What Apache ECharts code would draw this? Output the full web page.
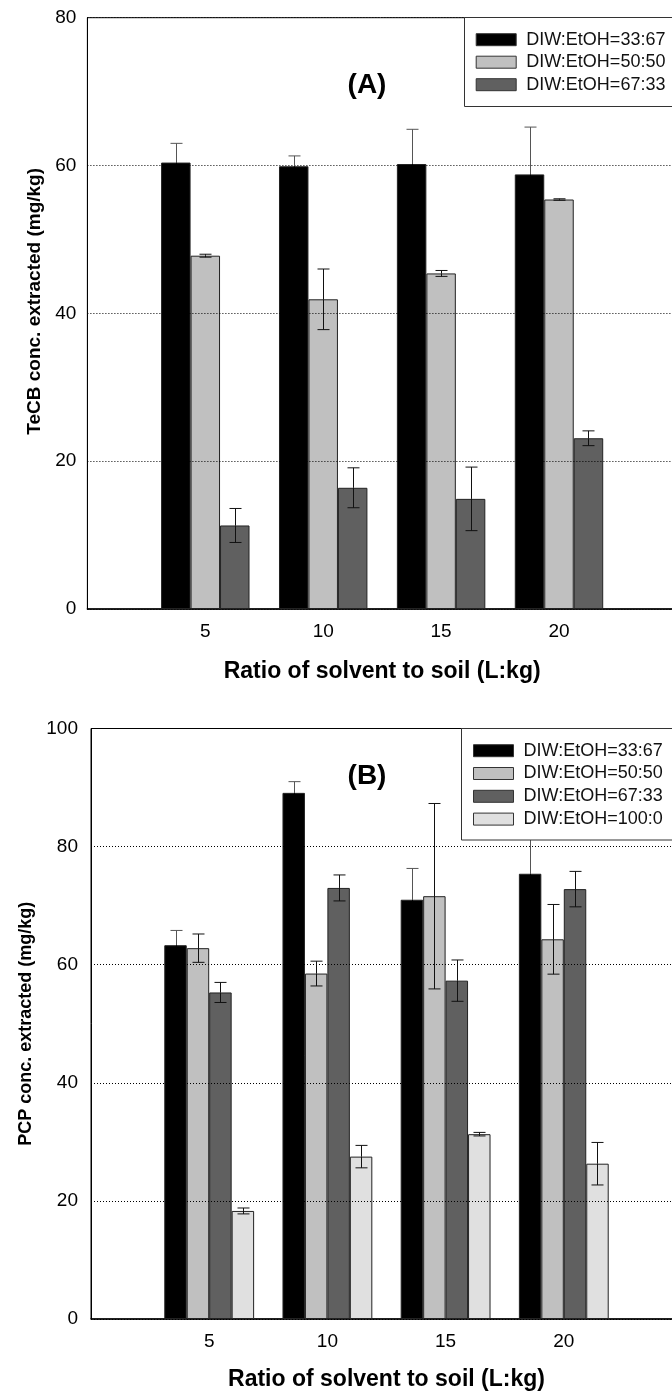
<!DOCTYPE html>
<html><head><meta charset="utf-8">
<script src="https://cdn.jsdelivr.net/npm/echarts@6/dist/echarts.min.js"></script>
<style>html,body{margin:0;padding:0;background:#fff}#c{width:672px;height:1393px}</style>
</head><body><div id="c"></div>
<script>
// ---- data ----
const xCategories = ['0', '5', '10', '15', '20', '25'];   // ratio L:kg (0 and 25 are axis ends, unlabeled)
const seriesNames = ['DIW:EtOH=33:67', 'DIW:EtOH=50:50', 'DIW:EtOH=67:33', 'DIW:EtOH=100:0'];
const seriesColors = ['#000000', '#c0c0c0', '#606060', '#e0e0e0'];

// Panel A: TeCB (values at 5,10,15,20)
const tecb_33_67 = [60.4, 59.9, 60.2, 58.8];
const tecb_33_67_err = [2.6, 1.4, 4.7, 6.4];
const tecb_50_50 = [47.8, 41.9, 45.4, 55.4];
const tecb_50_50_err = [0.2, 4.1, 0.4, 0.1];
const tecb_67_33 = [11.3, 16.4, 14.9, 23.1];
const tecb_67_33_err = [2.3, 2.7, 4.3, 1.0];

// Panel B: PCP
const pcp_33_67 = [63.3, 89.1, 71.0, 75.4];
const pcp_33_67_err = [2.5, 1.9, 5.3, 7.0];
const pcp_50_50 = [62.8, 58.5, 71.6, 64.3];
const pcp_50_50_err = [2.4, 2.1, 15.7, 5.9];
const pcp_67_33 = [55.3, 73.0, 57.3, 72.8];
const pcp_67_33_err = [1.7, 2.2, 3.5, 3.0];
const pcp_100_0 = [18.3, 27.5, 31.3, 26.3];
const pcp_100_0_err = [0.5, 1.9, 0.3, 3.6];

// ---- build ----
const FONT = '"Liberation Sans", Arial, Helvetica, sans-serif';
const pad = a => [null].concat(a, [null]);

const panelA = { vals: [tecb_33_67, tecb_50_50, tecb_67_33], errs: [tecb_33_67_err, tecb_50_50_err, tecb_67_33_err], pct: 0.25 };
const panelB = { vals: [pcp_33_67, pcp_50_50, pcp_67_33, pcp_100_0], errs: [pcp_33_67_err, pcp_50_50_err, pcp_67_33_err, pcp_100_0_err], pct: 0.19 };

function xAxisCfg(gridIndex, gap, margin) {
  return {
    type: 'category', gridIndex: gridIndex, data: xCategories, boundaryGap: false,
    axisLine: { show: true, lineStyle: { color: '#000', width: 1.5 } },
    axisTick: { show: false },
    splitLine: { show: false },
    axisLabel: { interval: 0, margin: margin, color: '#000', fontSize: 19, fontFamily: FONT,
      formatter: v => (v === xCategories[0] || v === xCategories[xCategories.length - 1]) ? '' : v },
    name: 'Ratio of solvent to soil (L:kg)', nameLocation: 'middle', nameGap: gap,
    nameTextStyle: { color: '#000', fontSize: 23, fontWeight: 'bold', fontFamily: FONT }
  };
}
function yAxisCfg(gridIndex, max, name, gap, margin, fs, shift) {
  return {
    type: 'value', gridIndex: gridIndex, min: 0, max: max, interval: 20, z: 3,
    axisLine: { show: true, lineStyle: { color: '#000', width: 1 } },
    axisTick: { show: false },
    splitLine: { show: true, lineStyle: { color: '#000', width: 1, type: [1, 2] } },
    axisLabel: { margin: margin, color: '#000', fontSize: 19, fontFamily: FONT },
    name: name, nameLocation: 'middle', nameGap: gap,
    nameTextStyle: { color: '#000', fontSize: fs, fontWeight: 'bold', fontFamily: FONT,
      padding: shift > 0 ? [0, 0, 0, shift] : [0, -shift, 0, 0] }
  };
}

const series = [];
function addPanel(panel, axisIndex) {
  const n = panel.vals.length;
  const errData = [];
  panel.vals.forEach((v, s) => {
    series.push({
      type: 'bar', name: seriesNames[s], xAxisIndex: axisIndex, yAxisIndex: axisIndex,
      data: pad(v), barWidth: (panel.pct * 100) + '%', barGap: '0%',
      itemStyle: { color: seriesColors[s], borderColor: '#222', borderWidth: 1 },
      emphasis: { disabled: true }, animation: false
    });
    v.forEach((val, i) => errData.push([i + 1, val, panel.errs[s][i], s]));
  });
  series.push({
    type: 'custom', xAxisIndex: axisIndex, yAxisIndex: axisIndex, data: errData, z: 3,
    encode: { x: 0, y: 1 }, animation: false, silent: true,
    renderItem: function (params, api) {
      const x = api.value(0), y = api.value(1), e = api.value(2), s = api.value(3);
      const band = api.size([1, 0])[0];
      const bw = band * panel.pct;
      const c = api.coord([x, y]);
      const cx = Math.round(c[0] + (s - (n - 1) / 2) * bw) + 0.5;
      const top = api.coord([x, y + e])[1];
      const bot = api.coord([x, y - e])[1];
      const cap = 6;
      const up = { stroke: s === 0 ? '#555' : '#111', lineWidth: 1 };
      const dn = { stroke: s === 0 ? '#000' : '#111', lineWidth: 1 };
      return { type: 'group', children: [
        { type: 'line', shape: { x1: cx, y1: top, x2: cx, y2: c[1] }, style: up },
        { type: 'line', shape: { x1: cx, y1: c[1], x2: cx, y2: bot }, style: dn },
        { type: 'line', shape: { x1: cx - cap, y1: top, x2: cx + cap, y2: top }, style: up },
        { type: 'line', shape: { x1: cx - cap, y1: bot, x2: cx + cap, y2: bot }, style: dn }
      ]};
    }
  });
}
addPanel(panelA, 0);
addPanel(panelB, 1);

const legendBase = {
  orient: 'vertical', icon: 'rect', itemWidth: 40, itemHeight: 12, z: 20,
  backgroundColor: 'transparent', borderWidth: 0,
  selectedMode: false,
  textStyle: { color: '#111', fontSize: 18, lineHeight: 22, fontFamily: FONT, padding: [0, 0, 0, 5] },
  itemStyle: { borderColor: '#333', borderWidth: 1 }
};

const option = {
  backgroundColor: '#fff',
  animation: false,
  grid: [
    { left: 87.4, top: 17.7, width: 589.5, height: 591.3, show: true, borderColor: '#000', borderWidth: 1,
      backgroundColor: 'transparent', containLabel: false, outerBoundsMode: 'none' },
    { left: 91, top: 728.5, width: 591, height: 590.5, show: true, borderColor: '#000', borderWidth: 1,
      backgroundColor: 'transparent', containLabel: false, outerBoundsMode: 'none' }
  ],
  xAxis: [xAxisCfg(0, 51, 13), xAxisCfg(1, 49, 13)],
  yAxis: [
    yAxisCfg(0, 80, 'TeCB conc. extracted (mg/kg)', 41, 11, 19, 24),
    yAxisCfg(1, 100, 'PCP conc. extracted (mg/kg)', 55, 13, 18, 0)
  ],
  legend: [
    Object.assign({}, legendBase, { data: seriesNames.slice(0, 3), left: 464.3, top: 17.7, padding: [11, 10, 11, 11.4], itemGap: 0.5 }),
    Object.assign({}, legendBase, { data: seriesNames.slice(0, 4), left: 461.7, top: 728.3, padding: [11.4, 10, 10, 11.3], itemGap: 0.8 })
  ],
  graphic: [
    { type: 'rect', z: 10, shape: { x: 464.5, y: 17.5, width: 240, height: 89 },
      style: { fill: '#fff', stroke: '#333', lineWidth: 1 } },
    { type: 'rect', z: 10, shape: { x: 461.5, y: 728.5, width: 240, height: 111.5 },
      style: { fill: '#fff', stroke: '#333', lineWidth: 1 } },
    { type: 'text', z: 10, x: 367, y: 85, style: { text: '(A)', fill: '#000', font: 'bold 28px ' + FONT, align: 'center', verticalAlign: 'middle' } },
    { type: 'text', z: 10, x: 367, y: 776, style: { text: '(B)', fill: '#000', font: 'bold 28px ' + FONT, align: 'center', verticalAlign: 'middle' } }
  ],
  series: series
};

const chart = echarts.init(document.getElementById('c'), null, { renderer: 'canvas' });
chart.setOption(option);
</script>
</body></html>
